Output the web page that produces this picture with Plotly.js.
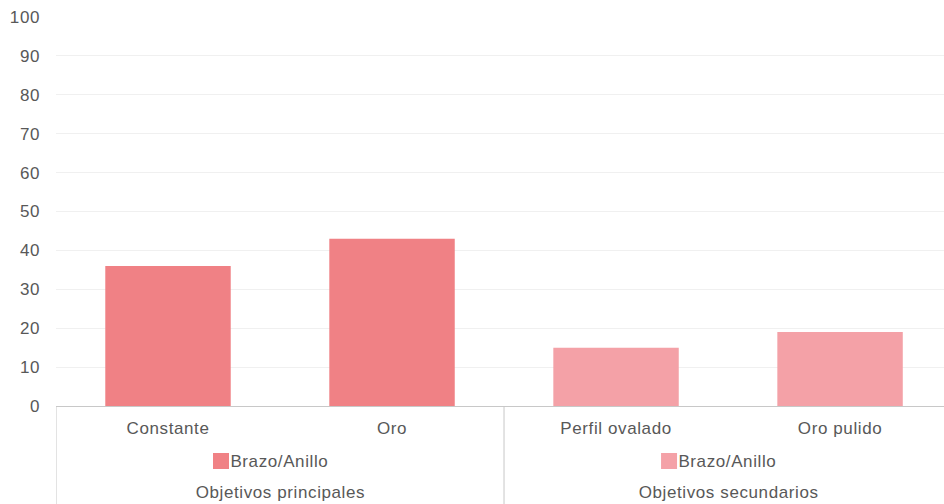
<!DOCTYPE html>
<html>
<head>
<meta charset="utf-8">
<script src="https://cdn.plot.ly/plotly-3.0.1.min.js"></script>
<style>html,body{margin:0;padding:0;background:#fff}#chart{width:944px;height:504px}
#chart svg text{letter-spacing:0.6px}</style>
</head>
<body>
<div id="chart"></div>
<script>
var categories = ["Constante", "Oro", "Perfil ovalado", "Oro pulido"];
var values = [36, 43, 15, 19];
var groupOf = [0, 0, 1, 1];
var groupNames = ["Objetivos principales", "Objetivos secundarios"];
var seriesName = "Brazo/Anillo";
var groupColors = ["#F08185", "#F4A1A7"];
var yTicks = [0, 10, 20, 30, 40, 50, 60, 70, 80, 90, 100];

var font = "'Liberation Sans', Arial, Helvetica, sans-serif";
var textColor = "#585858";

var trace = {
  type: "bar",
  x: categories,
  y: values,
  marker: {color: groupOf.map(function(g){return groupColors[g];})},
  showlegend: false,
  hoverinfo: "x+y"
};

var groups = groupNames.map(function(name, g){
  var idx = [];
  groupOf.forEach(function(v,i){ if (v===g) idx.push(i); });
  return {name: name, start: idx[0]-0.5, end: idx[idx.length-1]+0.5, center: (idx[0]+idx[idx.length-1])/2};
});

var shapes = [];
var annotations = [];
groups.forEach(function(gr, g){
  shapes.push({type:"line", xref:"x", yref:"paper", x0:gr.start, x1:gr.start, y0:0, y1:-0.26, line:{color:"#c8c8c8", width:1}});
  shapes.push({type:"rect", xref:"x", yref:"paper", xsizemode:"pixel", ysizemode:"pixel",
    xanchor:gr.center, yanchor:0, x0:-67, x1:-51, y0:-63, y1:-47, fillcolor:groupColors[g], line:{width:0}});
  annotations.push({xref:"x", yref:"paper", x:gr.center, y:0, xanchor:"left", yanchor:"middle", xshift:-48, yshift:-55,
    text:seriesName, showarrow:false, font:{family:font, size:17, color:textColor}});
  annotations.push({xref:"x", yref:"paper", x:gr.center, y:0, xanchor:"center", yanchor:"middle", yshift:-86,
    text:gr.name, showarrow:false, font:{family:font, size:17, color:textColor}});
});

var layout = {
  width: 944, height: 504,
  margin: {l:56, r:0, t:17, b:98},
  paper_bgcolor: "#fff", plot_bgcolor: "#fff",
  bargap: 0.44,
  font: {family: font, size: 17, color: textColor},
  xaxis: {
    type: "category",
    range: [-0.5, 3.464],
    showgrid: false, zeroline: false,
    showline: true, linecolor: "#c8c8c8", linewidth: 1,
    ticks: "", ticklabelstandoff: 7,
    tickfont: {family: font, size: 17, color: textColor},
    fixedrange: true
  },
  yaxis: {
    range: [0, 100],
    tickvals: yTicks,
    showgrid: true, gridcolor: "#f0f0f0", gridwidth: 1,
    zeroline: false, showline: false,
    ticks: "", ticklabelstandoff: 15,
    tickfont: {family: font, size: 17, color: textColor},
    fixedrange: true
  },
  shapes: shapes,
  annotations: annotations
};

Plotly.newPlot("chart", [trace], layout, {displayModeBar: false, staticPlot: true});
</script>
</body>
</html>
